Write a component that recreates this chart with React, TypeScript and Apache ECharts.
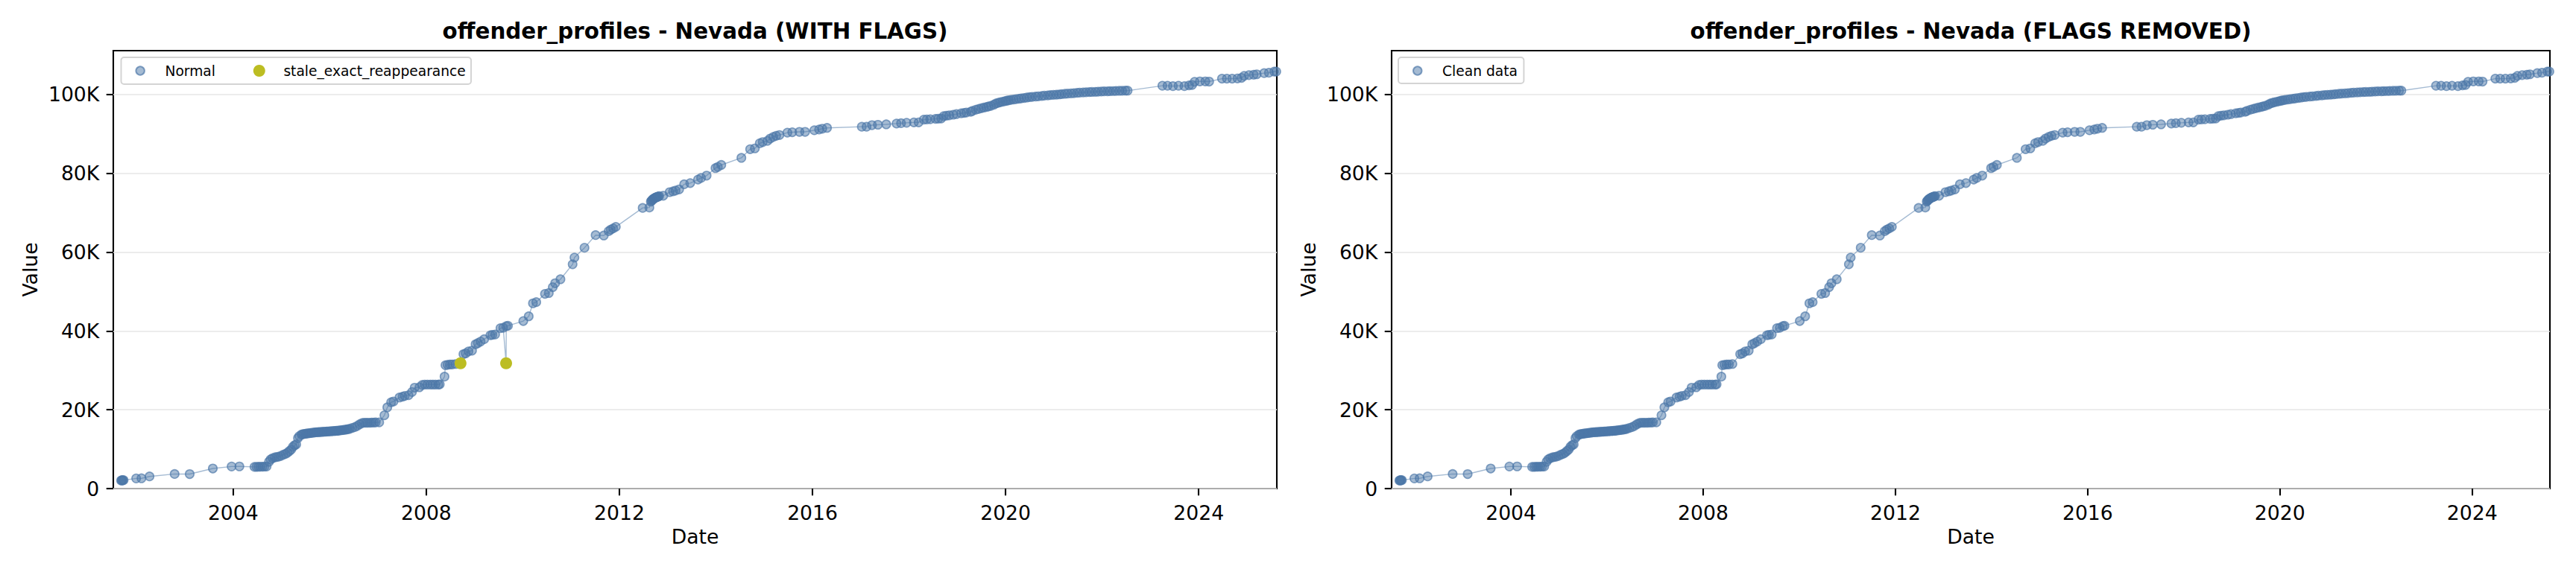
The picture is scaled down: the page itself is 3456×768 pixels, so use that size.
import React, { useEffect, useRef } from "react";
import * as echarts from "echarts";

// ---- data ----
const normalPoints: [string, number][] = [
  ["2001-09-05", 2050], ["2001-09-10", 2080], ["2001-09-14", 2100], ["2001-09-19", 2110], ["2001-09-24", 2140],
  ["2001-12-28", 2580], ["2002-02-06", 2600], ["2002-04-08", 3080], ["2002-10-15", 3700], ["2003-02-06", 3680],
  ["2003-07-31", 5100], ["2003-12-20", 5600], ["2004-02-17", 5620], ["2004-06-10", 5500], ["2004-06-25", 5520],
  ["2004-07-10", 5530], ["2004-07-25", 5550], ["2004-08-10", 5560], ["2004-08-25", 5580], ["2004-09-10", 5600],
  ["2004-09-28", 6800], ["2004-10-10", 7400], ["2004-10-25", 7700], ["2004-11-10", 7900], ["2004-11-25", 8000],
  ["2004-12-10", 8100], ["2004-12-28", 8300], ["2005-01-15", 8600], ["2005-02-01", 8800], ["2005-02-15", 9100],
  ["2005-03-01", 9500], ["2005-03-15", 9900], ["2005-03-28", 10600], ["2005-04-10", 11000], ["2005-04-22", 11200],
  ["2005-05-05", 12800], ["2005-05-15", 13300], ["2005-06-01", 13700], ["2005-06-20", 13850], ["2005-07-10", 13950],
  ["2005-08-01", 14050], ["2005-08-20", 14150], ["2005-09-10", 14250], ["2005-10-01", 14300], ["2005-10-20", 14350],
  ["2005-11-10", 14400], ["2005-12-01", 14450], ["2005-12-20", 14500], ["2006-01-10", 14550], ["2006-02-01", 14600],
  ["2006-02-20", 14650], ["2006-03-10", 14700], ["2006-04-01", 14800], ["2006-04-20", 14900], ["2006-05-10", 15000],
  ["2006-06-01", 15150], ["2006-06-20", 15400], ["2006-07-10", 15600], ["2006-07-28", 15900], ["2006-08-15", 16300],
  ["2006-09-01", 16600], ["2006-09-15", 16700], ["2006-10-01", 16700], ["2006-10-15", 16700], ["2006-11-01", 16700],
  ["2006-11-15", 16750], ["2006-12-01", 16750], ["2006-12-15", 16800], ["2007-01-10", 16800], ["2007-02-18", 18600],
  ["2007-03-12", 20600], ["2007-04-10", 21900], ["2007-04-28", 22100], ["2007-06-12", 23100], ["2007-07-05", 23300],
  ["2007-07-22", 23500], ["2007-08-20", 23700], ["2007-09-15", 24500], ["2007-10-05", 25600], ["2007-11-10", 25700],
  ["2007-12-01", 26300], ["2007-12-20", 26400], ["2008-01-10", 26400], ["2008-02-01", 26400], ["2008-02-20", 26400],
  ["2008-03-10", 26400], ["2008-04-01", 26400], ["2008-04-12", 26450], ["2008-05-18", 28400], ["2008-05-25", 31300],
  ["2008-06-10", 31400], ["2008-06-28", 31500], ["2008-07-15", 31500], ["2008-08-10", 31600], ["2008-10-08", 34100],
  ["2008-10-25", 34300], ["2008-11-15", 34800], ["2008-12-12", 35000], ["2009-01-08", 36600], ["2009-01-25", 36900],
  ["2009-02-15", 37300], ["2009-03-14", 37900], ["2009-04-30", 38900], ["2009-05-15", 39000], ["2009-06-05", 39100],
  ["2009-07-15", 40700], ["2009-08-05", 40800], ["2009-08-28", 41200], ["2009-09-10", 41300], ["2010-01-04", 42500],
  ["2010-02-14", 43700], ["2010-03-18", 47000], ["2010-04-12", 47300], ["2010-06-17", 49400], ["2010-07-16", 49600],
  ["2010-08-15", 51100], ["2010-09-02", 52100], ["2010-10-12", 53100], ["2011-01-12", 56900], ["2011-01-26", 58600],
  ["2011-04-12", 61100], ["2011-07-05", 64300], ["2011-09-05", 64200], ["2011-10-12", 65300], ["2011-10-28", 65700],
  ["2011-11-15", 66000], ["2011-12-05", 66400], ["2012-06-25", 71200], ["2012-08-15", 71300], ["2012-08-26", 72800],
  ["2012-09-05", 73200], ["2012-09-15", 73500], ["2012-09-25", 73700], ["2012-10-05", 73900], ["2012-10-15", 74000],
  ["2012-10-28", 74200], ["2012-11-28", 74300], ["2013-01-15", 75200], ["2013-02-10", 75400], ["2013-03-01", 75600],
  ["2013-03-28", 75900], ["2013-05-05", 77200], ["2013-06-20", 77500], ["2013-08-18", 78400], ["2013-09-10", 78800],
  ["2013-10-22", 79400], ["2013-12-28", 81300], ["2014-01-15", 81600], ["2014-02-10", 82100], ["2014-07-12", 83900],
  ["2014-09-16", 86100], ["2014-10-22", 86300], ["2014-11-28", 87600], ["2014-12-20", 87900], ["2015-01-25", 88200],
  ["2015-02-15", 88800], ["2015-03-10", 89200], ["2015-04-01", 89500], ["2015-04-26", 89700], ["2015-06-25", 90300],
  ["2015-08-01", 90400], ["2015-09-24", 90500], ["2015-11-06", 90500], ["2016-01-15", 90900], ["2016-02-20", 91100],
  ["2016-03-15", 91300], ["2016-04-20", 91500], ["2017-01-08", 91800], ["2017-02-13", 91800], ["2017-03-26", 92200],
  ["2017-05-10", 92300], ["2017-07-12", 92400], ["2017-09-28", 92600], ["2017-11-01", 92700], ["2017-12-13", 92800],
  ["2018-02-06", 92900], ["2018-03-14", 92900], ["2018-04-22", 93600], ["2018-06-10", 93700], ["2018-07-20", 93800],
  ["2018-09-01", 93900], ["2018-09-20", 94500], ["2018-11-01", 94700], ["2018-12-25", 95000], ["2019-01-30", 95200],
  ["2019-03-10", 95400], ["2019-04-12", 95600], ["2019-05-20", 96100], ["2019-07-01", 96500], ["2019-08-10", 96800],
  ["2019-09-12", 97100], ["2019-10-20", 97700], ["2019-11-20", 98000], ["2019-12-28", 98300], ["2020-01-25", 98500],
  ["2020-03-01", 98700], ["2020-04-10", 98900], ["2020-05-20", 99100], ["2020-07-01", 99300], ["2020-08-15", 99450],
  ["2020-10-01", 99600], ["2020-11-15", 99750], ["2020-12-28", 99900], ["2021-02-10", 100000], ["2021-03-25", 100150],
  ["2021-05-10", 100250], ["2021-06-25", 100400], ["2021-08-10", 100500], ["2021-09-25", 100600], ["2021-11-10", 100650],
  ["2021-12-25", 100750], ["2022-02-10", 100800], ["2022-03-25", 100850], ["2022-05-10", 100900], ["2022-06-25", 100950],
  ["2022-07-12", 100950], ["2023-04-01", 102200], ["2023-05-10", 102200], ["2023-06-20", 102100], ["2023-08-01", 102200],
  ["2023-09-15", 102100], ["2023-10-20", 102300], ["2023-11-12", 102400], ["2023-12-01", 103200], ["2024-01-10", 103300],
  ["2024-02-20", 103300], ["2024-03-20", 103250], ["2024-06-25", 104000], ["2024-08-01", 104000], ["2024-09-10", 104000],
  ["2024-10-20", 104050], ["2024-11-20", 104200], ["2024-12-10", 104700], ["2025-01-15", 104900], ["2025-02-20", 105000],
  ["2025-03-15", 105100], ["2025-05-10", 105400], ["2025-06-15", 105500], ["2025-07-25", 105800], ["2025-08-10", 105800],
];
// extra readings in the visually dense bands of the reference
const denseBandPoints: [string, number][] = [
  ["2005-06-10", 13780], ["2005-07-01", 13900], ["2005-07-20", 14000], ["2005-08-10", 14100], ["2005-09-01", 14200],
  ["2005-09-20", 14280], ["2005-10-10", 14320], ["2005-11-01", 14380], ["2005-11-20", 14420], ["2005-12-10", 14480],
  ["2006-01-01", 14530], ["2006-01-20", 14570], ["2006-02-10", 14620], ["2006-03-01", 14680], ["2006-03-20", 14750],
  ["2006-04-10", 14850], ["2006-05-01", 14950], ["2006-05-20", 15080],
  ["2012-08-31", 73000], ["2012-09-10", 73350], ["2012-09-20", 73600], ["2012-09-30", 73800], ["2012-10-10", 73950],
  ["2012-10-22", 74100],
  ["2018-05-15", 93650], ["2018-08-10", 93850], ["2018-10-10", 94600], ["2018-12-01", 94850], ["2019-02-20", 95300],
  ["2019-04-25", 95800], ["2019-06-10", 96300], ["2019-07-20", 96650], ["2019-08-25", 96950],
  ["2019-10-05", 97400], ["2019-11-05", 97850], ["2019-12-10", 98150], ["2020-01-10", 98400], ["2020-02-10", 98600],
  ["2020-03-20", 98800], ["2020-04-28", 99000], ["2020-06-10", 99200], ["2020-07-20", 99380], ["2020-09-05", 99520],
  ["2020-10-20", 99680], ["2020-12-05", 99820], ["2021-01-20", 99950], ["2021-03-01", 100080], ["2021-04-15", 100200],
  ["2021-06-01", 100320], ["2021-07-15", 100450], ["2021-09-01", 100550], ["2021-10-15", 100620], ["2021-12-01", 100700],
  ["2022-01-15", 100780], ["2022-03-01", 100820], ["2022-04-15", 100880], ["2022-06-01", 100920],
];
const flaggedPoints: [string, number][] = [
  ["2008-09-16", 31800],
  ["2009-08-27", 31800],
];
const yTickValues = [0, 20000, 40000, 60000, 80000, 100000];
const xTickYears = [2004, 2008, 2012, 2016, 2020, 2024];
const panelTitles = [
  "offender_profiles - Nevada (WITH FLAGS)",
  "offender_profiles - Nevada (FLAGS REMOVED)",
];
const legendNames = ["Normal", "stale_exact_reappearance", "Clean data"];
const axisNames = { x: "Date", y: "Value" };

// ---- styling ----
const FONT = "'DejaVu Sans', sans-serif";
const BLUE_FILL = "rgba(76,120,168,0.5)";
const BLUE_EDGE = "rgba(76,120,168,0.68)";
const BLUE_LINE = "rgba(76,120,168,0.5)";
const OLIVE = "#bcbd22";

const toTs = (d: string) => Date.parse(d + "T00:00:00Z");
const X_MIN = Date.UTC(2001, 6, 8);
const X_MAX = Date.UTC(2025, 7, 14);
const Y_MAX = 111100;

const grids = [
  { left: 152, top: 68, width: 1561, height: 588 },
  { left: 1867, top: 68, width: 1554, height: 588 },
];

export default function App() {
  const ref = useRef<HTMLDivElement>(null);

  useEffect(() => {
    if (!ref.current) return;
    const chart = echarts.init(ref.current, undefined, { renderer: "svg" });

    const normalData = [...normalPoints, ...denseBandPoints]
      .map(([d, v]) => [toTs(d), v])
      .sort((a, b) => a[0] - b[0]);
    const flaggedData = flaggedPoints.map(([d, v]) => [toTs(d), v]);
    const allData = [...normalData, ...flaggedData].sort((a, b) => a[0] - b[0]);
    const xTicks = xTickYears.map((y) => Date.UTC(y, 0, 1));

    const tickStyle = { color: "#000", width: 2.1 };
    const labelText = { fontSize: 26.67, fontFamily: FONT, color: "#000" };

    const xAxes = grids.map((_, i) => ({
      type: "value",
      gridIndex: i,
      min: X_MIN,
      max: X_MAX,
      scale: true,
      name: axisNames.x,
      nameLocation: "middle",
      nameGap: 50,
      nameTextStyle: labelText,
      axisLine: { show: false },
      axisTick: { show: true, inside: false, length: 9.3, lineStyle: tickStyle, customValues: xTicks },
      axisLabel: {
        ...labelText,
        customValues: xTicks,
        margin: 18.7,
        hideOverlap: false,
        formatter: (v: number) => String(new Date(v).getUTCFullYear()),
      },
      splitLine: { show: false },
    }));

    const yAxes = grids.map((_, i) => ({
      type: "value",
      gridIndex: i,
      min: 0,
      max: Y_MAX,
      interval: 20000,
      name: axisNames.y,
      nameLocation: "middle",
      nameGap: 98,
      nameTextStyle: labelText,
      axisLine: { show: false },
      axisTick: { show: true, inside: false, length: 9.3, lineStyle: tickStyle, customValues: yTickValues },
      axisLabel: {
        ...labelText,
        customValues: yTickValues,
        margin: 18.7,
        formatter: (v: number) => (v === 0 ? "0" : `${Math.round(v / 1000)}K`),
      },
      splitLine: { show: true, lineStyle: { color: "#e6e6e6", width: 1.6 } },
    }));

    const scatterStyle = { color: BLUE_FILL, borderColor: BLUE_EDGE, borderWidth: 1.6, opacity: 1 };
    const legendText = { fontSize: 18.67, fontFamily: FONT, color: "#000", lineHeight: 20 };

    chart.setOption({
      animation: false,
      backgroundColor: "#fff",
      title: panelTitles.map((t, i) => ({
        text: t,
        left: grids[i].left + grids[i].width / 2,
        top: 27,
        padding: 0,
        textAlign: "center",
        textStyle: { fontSize: 29.33, fontWeight: "bold", fontFamily: FONT, color: "#000" },
      })),
      grid: grids.map((g) => ({
        ...g,
        show: true,
        borderColor: "#000",
        borderWidth: 2.1,
        backgroundColor: "transparent",
        containLabel: false,
      })),
      xAxis: xAxes,
      yAxis: yAxes,
      graphic: [
        {
          type: "rect",
          z: 3,
          shape: { x: 162.5, y: 77, width: 469.5, height: 36, r: 4 },
          style: { fill: "rgba(255,255,255,0.8)", stroke: "#d4d4d4", lineWidth: 2 },
        },
        {
          type: "rect",
          z: 3,
          shape: { x: 1876, y: 77, width: 168.4, height: 35, r: 4 },
          style: { fill: "rgba(255,255,255,0.8)", stroke: "#d4d4d4", lineWidth: 2 },
        },
      ],
      legend: [
        {
          data: [legendNames[0]], left: 181.4, top: 85, padding: 0, icon: "circle",
          itemWidth: 56.6, itemHeight: 11.5, textStyle: legendText, z: 10, selectedMode: false,
        },
        {
          data: [legendNames[1]], left: 339.8, top: 85, padding: 0, icon: "circle",
          itemWidth: 55.2, itemHeight: 16, textStyle: legendText, z: 10, selectedMode: false,
        },
        {
          data: [legendNames[2]], left: 1895, top: 85, padding: 0, icon: "circle",
          itemWidth: 56.6, itemHeight: 11.5, textStyle: legendText, z: 10, selectedMode: false,
        },
      ],
      series: [
        {
          type: "line", name: "with-flags-line", xAxisIndex: 0, yAxisIndex: 0, data: allData,
          symbol: "none", showSymbol: false, silent: true, z: 1,
          lineStyle: { color: BLUE_LINE, width: 1.4 },
        },
        {
          type: "scatter", name: legendNames[0], xAxisIndex: 0, yAxisIndex: 0, data: normalData,
          symbol: "circle", symbolSize: 11.5, itemStyle: scatterStyle, z: 2,
        },
        {
          type: "scatter", name: legendNames[1], xAxisIndex: 0, yAxisIndex: 0, data: flaggedData,
          symbol: "circle", symbolSize: 16, itemStyle: { color: OLIVE, opacity: 1 }, z: 3,
        },
        {
          type: "line", name: "clean-line", xAxisIndex: 1, yAxisIndex: 1, data: normalData,
          symbol: "none", showSymbol: false, silent: true, z: 1,
          lineStyle: { color: BLUE_LINE, width: 1.4 },
        },
        {
          type: "scatter", name: legendNames[2], xAxisIndex: 1, yAxisIndex: 1, data: normalData,
          symbol: "circle", symbolSize: 11.5, itemStyle: scatterStyle, z: 2,
        },
      ],
    });

    return () => chart.dispose();
  }, []);

  return (
    <div
      ref={ref}
      style={{ position: "fixed", left: 0, top: 0, width: 3456, height: 768, background: "#fff" }}
    />
  );
}
